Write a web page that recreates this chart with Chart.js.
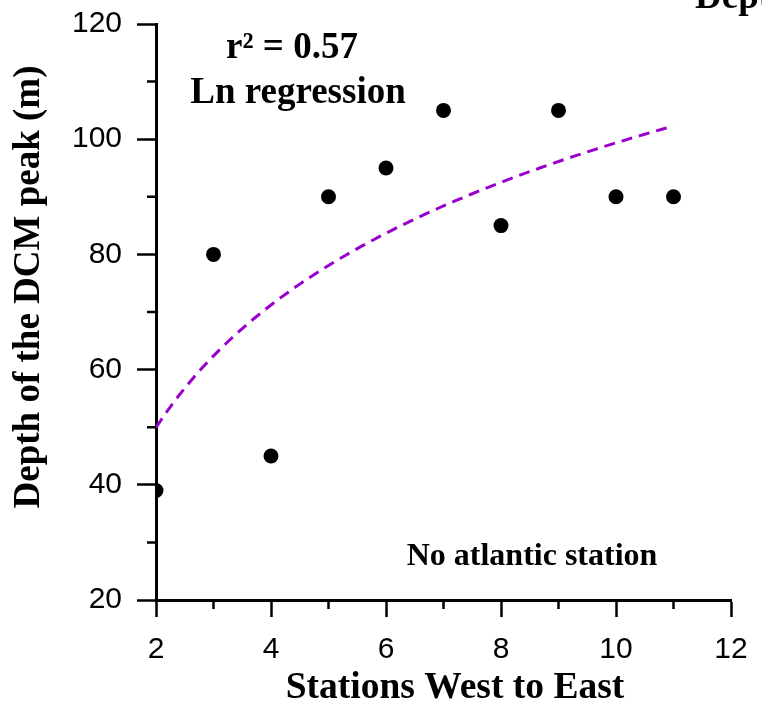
<!DOCTYPE html>
<html>
<head>
<meta charset="utf-8">
<script src="https://cdn.jsdelivr.net/npm/chart.js@4/dist/chart.umd.min.js"></script>
<style>
  html, body { margin: 0; padding: 0; background: #ffffff; }
  #wrap { width: 762px; height: 703px; }
</style>
</head>
<body>
<div id="wrap"><canvas id="c" width="762" height="703"></canvas></div>
<script>
// Stations (west to east) and depth of the deep chlorophyll maximum
const stations = [2, 3, 4, 5, 6, 7, 8, 9, 10, 11];
const dcmDepth = [39, 80, 45, 90, 95, 105, 85, 105, 90, 90];

// Axis tick labels (majors) and minor tick positions
const xTicks = [2, 4, 6, 8, 10, 12];
const yTicks = [20, 40, 60, 80, 100, 120];
const xMinor = [3, 5, 7, 9, 11];
const yMinor = [30, 50, 70, 90, 110];

// Logarithmic least-squares fit: depth = a + b * ln(station)
function lnFit(xs, ys) {
  const lx = xs.map(Math.log);
  const n = xs.length;
  const mx = lx.reduce((s, v) => s + v, 0) / n;
  const my = ys.reduce((s, v) => s + v, 0) / n;
  let sxy = 0, sxx = 0;
  for (let i = 0; i < n; i++) {
    sxy += (lx[i] - mx) * (ys[i] - my);
    sxx += (lx[i] - mx) * (lx[i] - mx);
  }
  const b = sxy / sxx;
  return { a: my - b * mx, b: b };
}
const fit = lnFit(stations, dcmDepth);
const fitCurve = [];
for (let i = 0; i <= 90; i++) {
  const x = 2 + i * 0.1;
  fitCurve.push({ x: x, y: fit.a + fit.b * Math.log(x) });
}

const SERIF = '"Liberation Serif", "Times New Roman", Times, serif';
const SANS = '"Liberation Sans", Arial, Helvetica, sans-serif';

// Minor ticks, axis titles and in-plot notes
const decorations = {
  id: 'decorations',
  afterDraw(chart) {
    const ctx = chart.ctx;
    const xs = chart.scales.x, ys = chart.scales.y;
    const area = chart.chartArea;
    ctx.save();
    ctx.strokeStyle = '#000';
    ctx.lineWidth = 2.5;
    ctx.beginPath();
    xMinor.forEach(v => {
      const px = xs.getPixelForValue(v);
      ctx.moveTo(px, area.bottom);
      ctx.lineTo(px, area.bottom + 9);
    });
    yMinor.forEach(v => {
      const py = ys.getPixelForValue(v);
      ctx.moveTo(area.left, py);
      ctx.lineTo(area.left - 9, py);
    });
    ctx.stroke();

    ctx.fillStyle = '#000';
    ctx.textAlign = 'center';
    ctx.textBaseline = 'alphabetic';

    ctx.font = 'bold 37.5px ' + SERIF;
    ctx.fillText('Stations West to East', 455, 698);

    ctx.save();
    ctx.translate(39, 287);
    ctx.rotate(-Math.PI / 2);
    ctx.font = 'bold 37px ' + SERIF;
    ctx.fillText('Depth of the DCM peak (m)', 0, 0);
    ctx.restore();

    ctx.font = 'bold 37px ' + SERIF;
    ctx.fillText('r\u00B2 = 0.57', 292, 58);
    ctx.fillText('Ln regression', 298, 103);

    ctx.font = 'bold 32px ' + SERIF;
    ctx.fillText('No atlantic station', 532, 565);

    ctx.textAlign = 'left';
    ctx.font = 'bold 37px ' + SERIF;
    ctx.fillText('Depth', 695, 8);
    ctx.restore();
  }
};

new Chart(document.getElementById('c'), {
  type: 'scatter',
  data: {
    datasets: [
      {
        type: 'line',
        label: 'Ln regression',
        data: fitCurve,
        borderColor: '#9900cc',
        borderWidth: 3,
        borderDash: [11, 7],
        pointRadius: 0,
        fill: false,
        tension: 0
      },
      {
        label: 'DCM depth',
        data: stations.map((s, i) => ({ x: s, y: dcmDepth[i] })),
        backgroundColor: '#000',
        borderColor: '#000',
        borderWidth: 0,
        pointRadius: 7.5,
        pointHoverRadius: 7.5
      }
    ]
  },
  options: {
    responsive: false,
    animation: false,
    events: [],
    layout: { padding: { top: 24, right: 31, left: 0, bottom: 0 } },
    plugins: { legend: { display: false }, tooltip: { enabled: false } },
    scales: {
      x: {
        type: 'linear',
        min: 2, max: 12,
        afterBuildTicks: s => { s.ticks = xTicks.map(v => ({ value: v })); },
        afterFit: s => { s.height = 103; s.paddingLeft = 0; s.paddingRight = 0; },
        border: { display: true, color: '#000', width: 3 },
        grid: { drawOnChartArea: false, drawTicks: true, tickLength: 17, tickColor: '#000', tickWidth: 2.5 },
        ticks: { color: '#000', font: { family: SANS, size: 30 }, padding: 15, maxRotation: 0, autoSkip: false }
      },
      y: {
        type: 'linear',
        min: 20, max: 120,
        afterBuildTicks: s => { s.ticks = yTicks.map(v => ({ value: v })); },
        afterFit: s => { s.width = 156; s.paddingTop = 0; s.paddingBottom = 0; },
        border: { display: true, color: '#000', width: 3 },
        grid: { drawOnChartArea: false, drawTicks: true, tickLength: 19, tickColor: '#000', tickWidth: 2.5 },
        ticks: { color: '#000', font: { family: SANS, size: 30 }, padding: 15, autoSkip: false }
      }
    }
  },
  plugins: [decorations]
});
</script>
</body>
</html>
